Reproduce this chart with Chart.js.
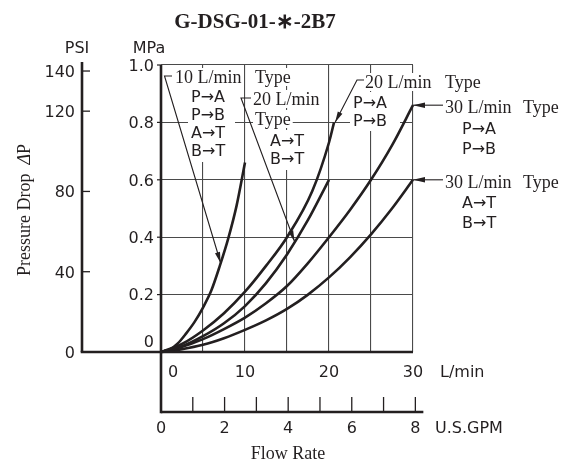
<!DOCTYPE html>
<html><head><meta charset="utf-8">
<script src="https://cdn.jsdelivr.net/npm/chart.js@4"></script>
<style>html,body{margin:0;padding:0;background:#fff}canvas{display:block}</style>
</head><body>
<canvas id="c" width="572" height="463"></canvas>
<script>
// ---- data (flow in L/min, pressure drop in MPa) ----
const flow10All = [0,1,2,3,4,5,6,7,8,9,10];
const dp10All   = [0,0.008,0.03,0.065,0.105,0.155,0.215,0.30,0.395,0.51,0.66];
const flow20AT  = [0,2.5,5,7.5,10,12.5,15,17.5,20];
const dp20AT    = [0,0.02,0.055,0.10,0.16,0.24,0.34,0.46,0.60];
const flow20PA  = [0,2.5,5,7.5,10,12.5,15,18,20,20.6];
const dp20PA    = [0,0.028,0.075,0.135,0.21,0.30,0.40,0.56,0.73,0.80];
const flow30PA  = [0,2.5,5,7.5,10,12.5,15,17.5,20,22.5,25,27.5,30];
const dp30PA    = [0,0.018,0.045,0.08,0.12,0.17,0.23,0.31,0.40,0.495,0.60,0.72,0.86];
const flow30AT  = [0,2.5,5,7.5,10,12.5,15,17.5,20,22.5,25,27.5,30];
const dp30AT    = [0,0.01,0.025,0.048,0.077,0.11,0.15,0.20,0.26,0.33,0.41,0.50,0.60];

// ---- tick labels ----
const mpaTicks = [0,0.2,0.4,0.6,0.8,1.0];
const psiTicks = [0,40,80,120,140];
const lpmTicks = [0,10,20,30];
const gpmLabelTicks = [0,2,4,6,8];
const gpmMinorTicks = [1,2,3,4,5,6,7,8];

const TITLE = 'G-DSG-01-\u2217-2B7';
const INK = '#231f20';
const SANS = '"DejaVu Sans", sans-serif';
const SERIF = '"Liberation Serif", "Times New Roman", serif';

function mk(xs, ys){ return xs.map((x,i)=>({x:x, y:ys[i]})); }

// annotation texts
const serifLabels = [
  ['10 L/min',175,77],['Type',255,77],
  ['20 L/min',253,99],['Type',255,119],
  ['20 L/min',365,82],['Type',445,82],
  ['30 L/min',445,107],['Type',523,107],
  ['30 L/min',445,182],['Type',523,182]
];
const sansLabels = [
  ['P\u2192A',191,96],['P\u2192B',191,114],['A\u2192T',191,132],['B\u2192T',191,150],
  ['A\u2192T',270,140],['B\u2192T',270,158],
  ['P\u2192A',353,102],['P\u2192B',353,120],
  ['P\u2192A',462,128],['P\u2192B',462,148],
  ['A\u2192T',462,202],['B\u2192T',462,222]
];
const whiteCols = [[188,86,47,76],[267,130,49,40],[350,92,50,39]];

function capText(ctx, s, x, yc, size, family, opts){
  opts = opts || {};
  ctx.font = (opts.style||'normal')+' '+(opts.weight||'normal')+' '+size+'px '+family;
  ctx.textAlign = opts.align || 'left';
  ctx.textBaseline = 'alphabetic';
  const cap = size * (family===SERIF ? 0.662 : 0.729);
  ctx.fillText(s, x, yc + cap/2);
}
function line(ctx, pts, w){
  ctx.lineWidth = w; ctx.beginPath();
  ctx.moveTo(pts[0][0], pts[0][1]);
  for (let i=1;i<pts.length;i++) ctx.lineTo(pts[i][0], pts[i][1]);
  ctx.stroke();
}
function arrowHead(ctx, from, tip, len, half){
  const dx = tip[0]-from[0], dy = tip[1]-from[1];
  const L = Math.hypot(dx,dy), ux = dx/L, uy = dy/L;
  const bx = tip[0]-ux*len, by = tip[1]-uy*len;
  ctx.beginPath();
  ctx.moveTo(tip[0],tip[1]);
  ctx.lineTo(bx - uy*half, by + ux*half);
  ctx.lineTo(bx + uy*half, by - ux*half);
  ctx.closePath(); ctx.fill();
}

const decor = {
  id:'decor',
  beforeDatasetsDraw(chart){
    const ctx = chart.ctx;
    ctx.save();
    ctx.fillStyle = '#fff';
    whiteCols.forEach(b=>ctx.fillRect(b[0],b[1],b[2],b[3]));
    ctx.font = '18px '+SERIF;
    serifLabels.forEach(t=>{
      const w = ctx.measureText(t[0]).width;
      ctx.fillRect(t[1]-2, t[2]-9, w+4, 18);
    });
    ctx.font = '16px '+SANS;
    sansLabels.forEach(t=>{
      const w = ctx.measureText(t[0]).width;
      ctx.fillRect(t[1]-2, t[2]-9, w+4, 18);
    });
    ctx.restore();
  },
  afterDatasetsDraw(chart){
    const ctx = chart.ctx, sx = chart.scales.x, sy = chart.scales.y,
          sp = chart.scales.psi, sg = chart.scales.gpm;
    const X = v=>sx.getPixelForValue(v), Y = v=>sy.getPixelForValue(v);
    const x0 = X(0), x30 = X(30), y0 = Y(0), y1 = Y(1);
    const psiX = 82, gpmY = 412;
    ctx.save();
    ctx.strokeStyle = INK; ctx.fillStyle = INK; ctx.lineCap = 'butt';
    // axes
    line(ctx, [[psiX, y1-3],[psiX, y0]], 2.6);
    line(ctx, [[psiX-1.3, y0],[x30, y0]], 2.6);
    line(ctx, [[x0, y1],[x0, gpmY+1.3]], 2.6);
    line(ctx, [[x0, gpmY],[sg.getPixelForValue(8)+8, gpmY]], 2.6);
    // PSI ticks + labels
    psiTicks.forEach(v=>{
      const p = sp.getPixelForValue(v);
      if (v>0) line(ctx, [[psiX, p],[psiX+8, p]], 1.3);
      capText(ctx, String(v), 75, p, 16, SANS, {align:'right'});
    });
    // MPa ticks + labels
    mpaTicks.forEach(v=>{
      const p = Y(v);
      if (v>0) line(ctx, [[x0-4, p],[x0, p]], 1.2);
      capText(ctx, v===0 ? '0' : v.toFixed(1), 154, v===0 ? p-11 : p, 16, SANS, {align:'right'});
    });
    // L/min labels
    lpmTicks.forEach(v=>{
      capText(ctx, String(v), v===0 ? x0+12 : X(v), 371, 16, SANS, {align:'center'});
    });
    capText(ctx, 'L/min', 440, 371, 16, SANS);
    // GPM axis
    gpmMinorTicks.forEach(v=>{
      const p = sg.getPixelForValue(v);
      line(ctx, [[p, gpmY],[p, gpmY-15]], 1.3);
    });
    gpmLabelTicks.forEach(v=>{
      capText(ctx, String(v), sg.getPixelForValue(v), 427, 16, SANS, {align:'center'});
    });
    capText(ctx, 'U.S.GPM', 435, 427, 16, SANS);
    capText(ctx, 'PSI', 77, 47, 16, SANS, {align:'center'});
    capText(ctx, 'MPa', 149, 47, 16, SANS, {align:'center'});
    capText(ctx, 'Flow Rate', 288, 453, 18, SERIF, {align:'center'});
    capText(ctx, TITLE, 255, 21, 21, SERIF, {align:'center', weight:'bold'});
    // vertical axis title
    ctx.save();
    ctx.translate(24, 210); ctx.rotate(-Math.PI/2);
    const parts = [['Pressure Drop  ','normal'],['\u0394','italic'],['P','normal']];
    let tot = 0;
    parts.forEach(p=>{ ctx.font = p[1]+' 18px '+SERIF; tot += ctx.measureText(p[0]).width; });
    let cx = -tot/2;
    parts.forEach(p=>{
      ctx.font = p[1]+' 18px '+SERIF; ctx.textAlign='left'; ctx.textBaseline='alphabetic';
      ctx.fillText(p[0], cx, 6); cx += ctx.measureText(p[0]).width;
    });
    ctx.restore();
    // annotation texts
    serifLabels.forEach(t=>capText(ctx, t[0], t[1], t[2], 18, SERIF));
    sansLabels.forEach(t=>capText(ctx, t[0], t[1], t[2], 16, SANS));
    // leaders
    const tip10 = [X(7.1), Y(0.31)];
    line(ctx, [[172,76],[164.5,76],tip10], 1.1); arrowHead(ctx, [164.5,76], tip10, 11, 2.6);
    const tip20a = [X(15.9), Y(0.385)];
    line(ctx, [[251,98],[241,98],tip20a], 1.1); arrowHead(ctx, [241,98], tip20a, 11, 2.6);
    const tip20p = [X(20.6)+1, Y(0.80)];
    line(ctx, [[364,80],[357,80],tip20p], 1.1); arrowHead(ctx, [357,80], tip20p, 11, 2.6);
    const tip30p = [x30, Y(0.86)];
    line(ctx, [[443,tip30p[1]],tip30p], 1.1); arrowHead(ctx, [443,tip30p[1]], tip30p, 12, 2.8);
    const tip30a = [x30, Y(0.60)];
    line(ctx, [[443,tip30a[1]],tip30a], 1.1); arrowHead(ctx, [443,tip30a[1]], tip30a, 12, 2.8);
    ctx.restore();
  }
};

const curveStyle = {showLine:true, borderColor:INK, borderWidth:2.6, pointRadius:0,
  fill:false, cubicInterpolationMode:'monotone', clip:false};
new Chart(document.getElementById('c'), {
  type:'scatter',
  data:{datasets:[
    Object.assign({label:'10 L/min Type', data:mk(flow10All, dp10All)}, curveStyle),
    Object.assign({label:'20 L/min Type A-T B-T', data:mk(flow20AT, dp20AT)}, curveStyle),
    Object.assign({label:'20 L/min Type P-A P-B', data:mk(flow20PA, dp20PA)}, curveStyle),
    Object.assign({label:'30 L/min Type P-A P-B', data:mk(flow30PA, dp30PA)}, curveStyle),
    Object.assign({label:'30 L/min Type A-T B-T', data:mk(flow30AT, dp30AT)}, curveStyle)
  ]},
  options:{
    responsive:false, animation:false, devicePixelRatio:1,
    layout:{padding:{left:161, right:159, top:65, bottom:111}},
    plugins:{legend:{display:false}, tooltip:{enabled:false}, title:{display:false}},
    scales:{
      x:{type:'linear', min:0, max:30, ticks:{display:false, stepSize:5},
         grid:{color:'#4a4a4a', lineWidth:1.1, drawTicks:false}, border:{display:false},
         afterFit(s){ s.height = 0; }},
      y:{type:'linear', min:0, max:1, ticks:{display:false, stepSize:0.2},
         grid:{color:'#4a4a4a', lineWidth:1.1, drawTicks:false}, border:{display:false},
         afterFit(s){ s.width = 0; }},
      psi:{type:'linear', axis:'y', position:'left', min:0, max:143, display:false},
      gpm:{type:'linear', axis:'x', position:'bottom', min:0, max:30/3.785, display:false}
    }
  },
  plugins:[decor]
});
</script>
</body></html>
